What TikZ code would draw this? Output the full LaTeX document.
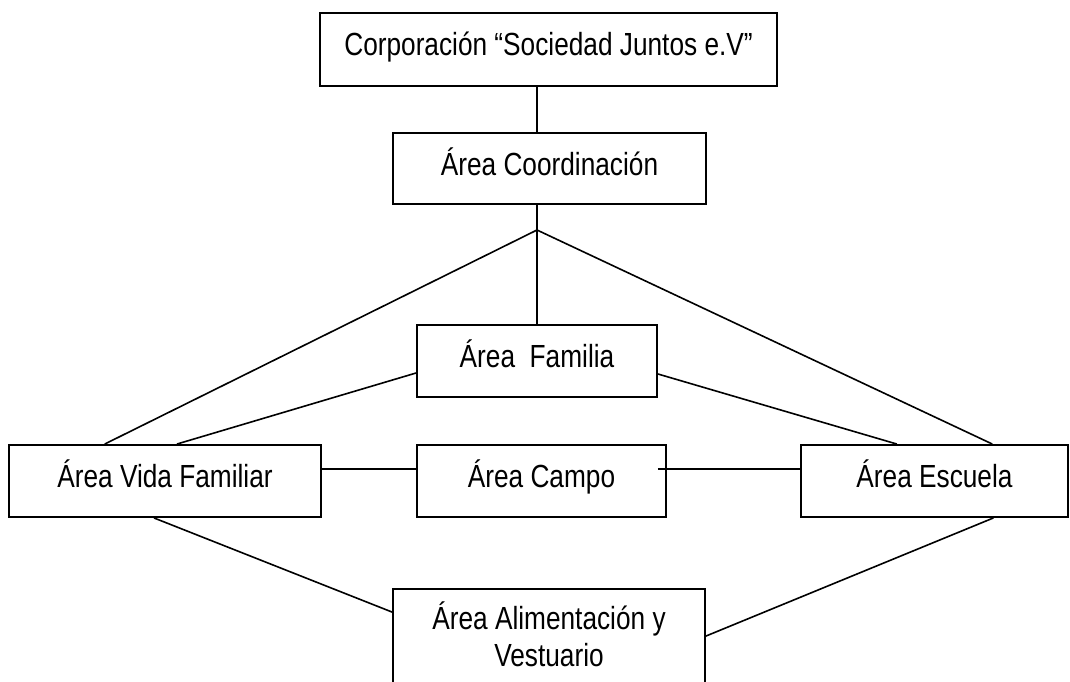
\documentclass[tikz,border=0pt]{standalone}
\usepackage{fontspec}
\setmainfont{Liberation Sans}[FakeStretch=0.82]
\usetikzlibrary{calc}
\begin{document}
\begin{tikzpicture}[x=1pt,y=-1pt,
  box/.style={draw=black,line width=1.9pt,rectangle,inner sep=0pt,align=center,
    font=\fontsize{32}{37}\selectfont},
  one/.style={text height=21.5pt,text depth=8.5pt},
  conn/.style={draw=black,line width=1.6pt}]
\useasboundingbox (0,0) rectangle (1070,682);
% nodes
\node[box,one,minimum width=457pt,minimum height=73pt] (corp) at (548.5,49.5) {Corporación “Sociedad Juntos e.V”};
\node[box,one,minimum width=313pt,minimum height=71pt] (coord) at (549.5,168.5) {Área Coordinación};
\node[box,one,minimum width=240pt,minimum height=72pt] (fam) at (537,361) {Área\ \ Familia};
\node[box,one,minimum width=312pt,minimum height=72pt] (vida) at (165,481) {Área Vida Familiar};
\node[box,one,minimum width=249pt,minimum height=72pt] (campo) at (541.5,481) {Área Campo};
\node[box,one,minimum width=267pt,minimum height=72pt] (esc) at (934.5,481) {Área Escuela};
\node[box,text height=67pt,text depth=19pt,minimum width=312pt,minimum height=106pt] (alim) at (549,642) {Área Alimentación y\\Vestuario};
\coordinate (J) at (537,230);
% connectors
\draw[conn] (corp.south -| J) -- (coord.north -| J);
\draw[conn] (coord.south -| J) -- (J);
\draw[conn] (J) -- (fam.north -| J);
\draw[conn] (J) -- ($(vida.north west)!0.308!(vida.north east)$);
\draw[conn] (J) -- ($(esc.north west)!0.715!(esc.north east)$);
\draw[conn] ($(fam.west)+(0,12)$) -- ($(vida.north west)!0.538!(vida.north east)$);
\draw[conn] ($(fam.east)+(0,13)$) -- ($(esc.north west)!0.36!(esc.north east)$);
\draw[conn] ($(vida.east)+(0,-12)$) -- ($(campo.west)+(0,-12)$);
\draw[conn] ($(campo.east)+(-9,-12)$) -- ($(esc.west)+(0,-12)$);
\draw[conn] ($(vida.south west)!0.465!(vida.south east)$) -- ($(alim.north west)+(0,24)$);
\draw[conn] ($(esc.south west)!0.719!(esc.south east)$) -- ($(alim.north east)+(0,48)$);
\end{tikzpicture}
\end{document}
